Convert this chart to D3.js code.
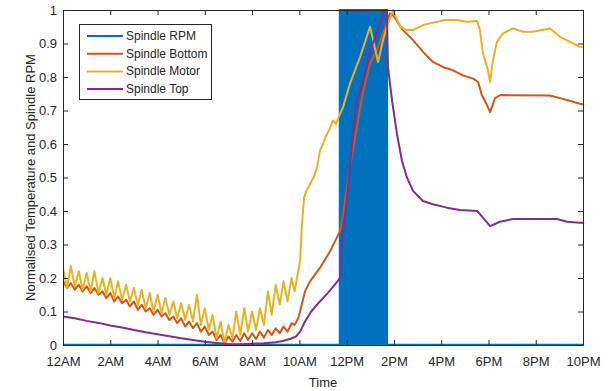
<!DOCTYPE html>
<html><head><meta charset="utf-8">
<script src="https://cdn.jsdelivr.net/npm/d3@7"></script>
<style>body{margin:0;background:#fff}svg{display:block}text{font-family:"Liberation Sans",Arial,sans-serif}</style>
</head><body><svg id="c" width="612" height="391"></svg>
<script>
// ---- data (time in hours since 12AM) ----
const tickHours = [0,2,4,6,8,10,12,14,16,18,20,22];
const tickLabels = ["12AM","2AM","4AM","6AM","8AM","10AM","12PM","2PM","4PM","6PM","8PM","10PM"];
const yTicks = [0,0.1,0.2,0.3,0.4,0.5,0.6,0.7,0.8,0.9,1];
const seriesNames = ["Spindle RPM","Spindle Bottom","Spindle Motor","Spindle Top"];
const seriesColors = ["#0072BD","#D95319","#EDB120","#7E2F8E"];

const rpmTime = [0, 11.72, 11.72, 13.70, 13.70, 22];
const rpmValue = [0, 0, 1, 1, 0, 0];

const oscTime = [0,0.17,0.33,0.5,0.67,0.83,1.0,1.17,1.33,1.5,1.67,1.83,2.0,2.17,2.33,2.5,2.67,2.83,3.0,3.17,3.33,3.5,3.67,3.83,4.0,4.17,4.33,4.5,4.67,4.83,5.0,5.17,5.33,5.5,5.67,5.83,6.0,6.17,6.33,6.5,6.67,6.83,7.0,7.17,7.33,7.5,7.67,7.83,8.0,8.17,8.33,8.5,8.67,8.83,9.0,9.17,9.33,9.5,9.67,9.8,9.95];

const motorTime = oscTime.concat([10.03,10.1,10.2,10.3,10.45,10.6,10.75,10.87,11.0,11.1,11.25,11.42,11.55,11.72,11.85,12.14,12.57,12.99,13.12,13.33,13.54,13.7,13.92,13.96,14.26,14.55,14.81,15.23,15.53,16.16,16.67,17.09,17.52,17.64,17.77,17.98,18.07,18.19,18.36,18.62,19.04,19.46,19.88,20.6,21.03,21.45,21.87,22]);
const motorValue = [0.23,0.17,0.235,0.175,0.22,0.165,0.215,0.16,0.22,0.155,0.2,0.15,0.2,0.14,0.19,0.135,0.18,0.13,0.17,0.12,0.165,0.11,0.155,0.1,0.15,0.095,0.14,0.09,0.13,0.08,0.125,0.075,0.12,0.07,0.15,0.06,0.11,0.045,0.09,0.02,0.07,0.005,0.06,0.02,0.1,0.03,0.11,0.04,0.1,0.045,0.11,0.06,0.16,0.09,0.18,0.12,0.19,0.13,0.2,0.16,0.22,
  0.25,0.35,0.44,0.46,0.48,0.5,0.53,0.58,0.6,0.62,0.64,0.67,0.66,0.69,0.71,0.78,0.86,0.95,0.91,0.845,0.91,0.95,0.99,1.0,0.95,0.94,0.94,0.955,0.96,0.97,0.97,0.965,0.967,0.94,0.87,0.82,0.785,0.85,0.905,0.93,0.945,0.935,0.935,0.945,0.92,0.905,0.89,0.89];

const bottomTime = oscTime.concat([10.03,10.24,10.45,10.87,11.3,11.72,11.85,12.14,12.43,12.68,12.99,13.28,13.54,13.83,13.96,14.38,14.81,15.23,15.65,16.07,16.5,16.92,17.35,17.56,17.73,17.94,18.07,18.28,18.5,20.6,21.03,21.58,21.87,22]);
const bottomValue = [0.19,0.17,0.185,0.165,0.18,0.16,0.175,0.155,0.17,0.15,0.16,0.14,0.155,0.13,0.145,0.125,0.135,0.115,0.13,0.105,0.12,0.1,0.11,0.09,0.105,0.085,0.095,0.075,0.085,0.065,0.08,0.055,0.07,0.05,0.065,0.04,0.055,0.03,0.04,0.015,0.03,0.005,0.025,0.01,0.03,0.012,0.035,0.015,0.035,0.018,0.04,0.022,0.045,0.03,0.05,0.035,0.055,0.04,0.065,0.06,0.08,
  0.1,0.16,0.19,0.23,0.28,0.34,0.39,0.53,0.65,0.75,0.84,0.88,0.93,0.99,0.985,0.94,0.91,0.875,0.845,0.83,0.82,0.805,0.795,0.785,0.745,0.716,0.695,0.737,0.746,0.745,0.737,0.726,0.72,0.718];

const topTime = [0,0.5,1,1.5,2,2.5,3,3.5,4,4.5,5,5.5,6,6.5,7,7.5,8,8.5,9,9.3,9.6,9.85,10.03,10.24,10.5,10.87,11.2,11.5,11.72,11.85,12.0,12.14,12.27,12.43,12.68,12.99,13.28,13.54,13.7,13.75,13.92,14.13,14.34,14.55,14.81,15.23,15.65,16.24,16.79,17.52,17.77,18.07,18.48,19.04,20.9,21.32,21.87,22];
const topValue = [0.085,0.08,0.072,0.066,0.058,0.052,0.045,0.038,0.032,0.026,0.02,0.015,0.01,0.006,0.003,0.002,0.004,0.005,0.008,0.012,0.018,0.025,0.04,0.07,0.1,0.13,0.155,0.18,0.2,0.33,0.43,0.53,0.63,0.73,0.78,0.88,0.93,0.99,1.0,0.83,0.73,0.63,0.55,0.5,0.46,0.43,0.42,0.41,0.403,0.4,0.38,0.355,0.368,0.376,0.376,0.368,0.365,0.365];

// ---- chart ----
const L=63,R=583,T=10,B=345, ink="#262626";
const svg = d3.select("#c");
const x = d3.scaleLinear().domain([0,22]).range([L,R]);
const y = d3.scaleLinear().domain([0,1]).range([B,T]);
const zip = (t,v)=>t.map((d,i)=>[d,v[i]]);
const line = d3.line().x(d=>x(d[0])).y(d=>y(d[1]));

svg.append("defs").append("clipPath").attr("id","pc").append("rect").attr("x",L).attr("y",T-1).attr("width",R-L).attr("height",B-T+2);
const g = svg.append("g").attr("clip-path","url(#pc)");

// RPM
const rpm = zip(rpmTime,rpmValue);
g.append("path").datum(rpm).attr("d",d3.area().x(d=>x(d[0])).y0(y(0)).y1(d=>y(d[1]))).attr("fill",seriesColors[0]);
g.append("path").datum(rpm).attr("d",line).attr("fill","none").attr("stroke",seriesColors[0]).attr("stroke-width",2.5);
[[bottomTime,bottomValue,1],[motorTime,motorValue,2],[topTime,topValue,3]].forEach(([t,v,i])=>{
  g.append("path").datum(zip(t,v)).attr("d",line).attr("fill","none").attr("stroke",seriesColors[i]).attr("stroke-width",2).attr("stroke-linejoin","round");
});

// axes
const ax = svg.append("g").attr("transform",`translate(0,${B})`).call(d3.axisBottom(x).tickValues(tickHours).tickFormat((d,i)=>tickLabels[i]).tickSizeInner(-5).tickSizeOuter(0).tickPadding(12));
const axT = svg.append("g").attr("transform",`translate(0,${T})`).call(d3.axisTop(x).tickValues(tickHours).tickFormat("").tickSizeInner(-5).tickSizeOuter(0));
const ay = svg.append("g").attr("transform",`translate(${L},0)`).call(d3.axisLeft(y).tickValues(yTicks).tickFormat(d=>d===0||d===1?String(d):d3.format(".1f")(d)).tickSizeInner(-5).tickSizeOuter(0).tickPadding(6));
const ayR = svg.append("g").attr("transform",`translate(${R},0)`).call(d3.axisRight(y).tickValues(yTicks).tickFormat("").tickSizeInner(-5).tickSizeOuter(0));
[ax,axT,ay,ayR].forEach(a=>{a.selectAll("path,line").attr("stroke",ink).attr("stroke-width",1);a.selectAll("text").attr("fill",ink).style("font-size","13px").attr("font-family",null);});

svg.append("text").attr("x",(L+R)/2).attr("y",387).attr("text-anchor","middle").attr("fill",ink).style("font-size","13px").text("Time");
svg.append("text").attr("transform",`translate(35,${(T+B)/2}) rotate(-90)`).attr("text-anchor","middle").attr("fill",ink).style("font-size","13px").text("Normalised Temperature and Spindle RPM");

// legend
const lg = svg.append("g");
lg.append("rect").attr("x",79.5).attr("y",24.5).attr("width",132).attr("height",75).attr("fill","#fff").attr("stroke",ink).attr("stroke-width",1);
seriesNames.forEach((n,i)=>{
  const yy = 36 + i*17.7;
  lg.append("line").attr("x1",87).attr("x2",123).attr("y1",yy).attr("y2",yy).attr("stroke",seriesColors[i]).attr("stroke-width",2);
  lg.append("text").attr("x",126).attr("y",yy+4).attr("fill",ink).style("font-size","12px").text(n);
});
</script></body></html>
